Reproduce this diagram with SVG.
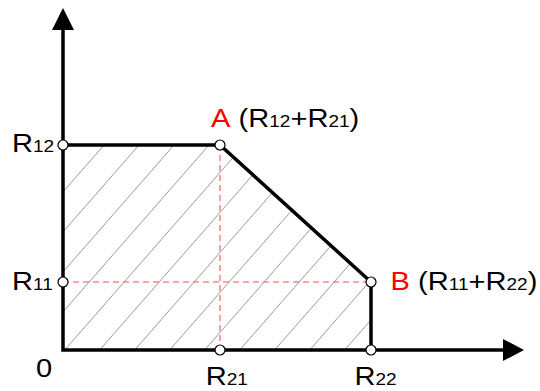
<svg xmlns="http://www.w3.org/2000/svg" width="540" height="391" viewBox="0 0 540 391">
<style>
text{font-family:"Liberation Sans",Arial,sans-serif;font-size:26px;fill:#000}
.sub{font-size:17px}
.red{fill:#ff0000}
.axis{fill:none;stroke:#000;stroke-width:3.5;stroke-linejoin:miter}
.edge{fill:none;stroke:#000;stroke-width:3.5;stroke-linejoin:miter}
.dash{fill:none;stroke:#ff5050;stroke-width:1.1;stroke-dasharray:6 4}
.pt{fill:#fff;stroke:#000;stroke-width:1.2}
</style>
<defs>
<pattern id="hatch" patternUnits="userSpaceOnUse" x="69" y="145" width="35" height="40">
<line x1="-3.5" y1="44" x2="38.5" y2="-4" stroke="#808080" stroke-width="0.8"/>
</pattern>
</defs>
<rect width="540" height="391" fill="#fff"/>
<polygon points="63,145 220,145 371,282 371,350 63,350" fill="url(#hatch)"/>
<g id="connectors">
<line class="dash" x1="63" y1="282" x2="371" y2="282"/>
<line class="dash" x1="220" y1="145" x2="220" y2="350"/>
<path class="axis" d="M63,29 V350 H503"/>
<polygon points="63,8 52,30 74,30" fill="#000"/>
<polygon points="524,350 503,339 503,361" fill="#000"/>
<path class="edge" d="M63,145 H220 L371,282 V350"/>
</g>
<g id="origin">
<text transform="translate(36,377) scale(1.12,1)">0</text>
</g>
<g id="R12">
<circle class="pt" cx="63" cy="145" r="5"/>
<text transform="translate(12,151.5) scale(1.12,1)">R<tspan class="sub">12</tspan></text>
</g>
<g id="R11">
<circle class="pt" cx="63" cy="282" r="5"/>
<text transform="translate(12,290) scale(1.12,1)">R<tspan class="sub">11</tspan></text>
</g>
<g id="A">
<circle class="pt" cx="220" cy="145" r="5"/>
<text transform="translate(211,127) scale(1.12,1)"><tspan class="red">A</tspan> (R<tspan class="sub">12</tspan>+R<tspan class="sub">21</tspan>)</text>
</g>
<g id="B">
<circle class="pt" cx="371" cy="282" r="5"/>
<text transform="translate(390.5,290) scale(1.12,1)"><tspan class="red">B</tspan> (R<tspan class="sub">11</tspan>+R<tspan class="sub">22</tspan>)</text>
</g>
<g id="R21">
<circle class="pt" cx="220" cy="350" r="5"/>
<text transform="translate(205.7,385) scale(1.12,1)">R<tspan class="sub">21</tspan></text>
</g>
<g id="R22">
<circle class="pt" cx="371" cy="350" r="5"/>
<text transform="translate(354.4,385) scale(1.12,1)">R<tspan class="sub">22</tspan></text>
</g>
</svg>
